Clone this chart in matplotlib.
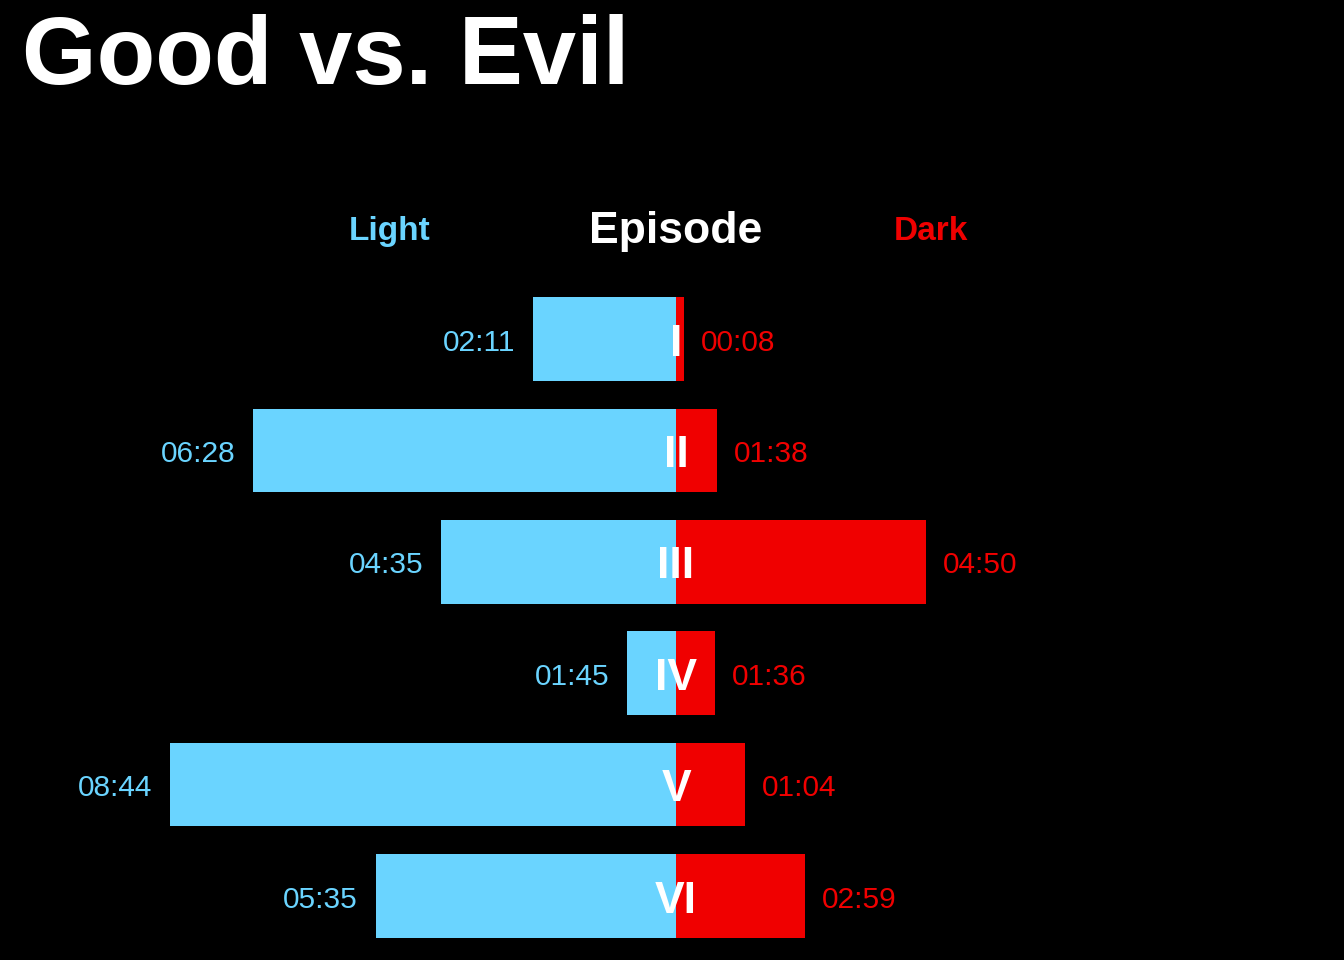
import matplotlib
matplotlib.use("Agg")
import matplotlib.pyplot as plt

# Data (bar lengths, labels as printed)
episodes = ["I", "II", "III", "IV", "V", "VI"]
light_len = [143, 423, 235, 49, 506, 300]
dark_len = [8, 41, 250, 39, 69, 129]
light_lbl = ["02:11", "06:28", "04:35", "01:45", "08:44", "05:35"]
dark_lbl = ["00:08", "01:38", "04:50", "01:36", "01:04", "02:59"]

light_col = "#6AD4FF"
dark_col = "#F00000"

plt.rcParams["font.family"] = ["Liberation Sans", "DejaVu Sans"]

fig = plt.figure(figsize=(13.44, 9.6), dpi=100)
fig.patch.set_facecolor("black")
ax = fig.add_axes([0, 0, 1, 1])
ax.set_facecolor("black")
ax.set_axis_off()

# one data unit ~ one pixel horizontally, rows are 111.4 px apart
ax.set_xlim(-676, 668)
ax.set_ylim(5.574, -3.043)

rows = list(range(len(episodes)))
ax.barh(rows, [-v for v in light_len], height=0.75, color=light_col, linewidth=0)
ax.barh(rows, dark_len, height=0.75, color=dark_col, linewidth=0)

px = 1 / 111.4  # one pixel in row units
for i in rows:
    ax.text(-light_len[i] - 18, i + 3.5 * px, light_lbl[i], color=light_col,
            fontsize=21.5, ha="right", va="center")
    ax.text(dark_len[i] + 17, i + 3.5 * px, dark_lbl[i], color=dark_col,
            fontsize=21.5, ha="left", va="center")
    ax.text(0, i + 5 * px, episodes[i], color="white", fontsize=32,
            fontweight="bold", ha="center", va="center")

# column headers
ax.text(-286, -1 + 4 * px, "Light", color=light_col, fontsize=24,
        fontweight="bold", ha="center", va="center")
ax.text(0, -1 + 4 * px, "Episode", color="white", fontsize=32,
        fontweight="bold", ha="center", va="center")
ax.text(255, -1 + 4 * px, "Dark", color=dark_col, fontsize=24,
        fontweight="bold", ha="center", va="center")

fig.text(22 / 1344, 1 - 84 / 960, "Good vs. Evil", color="white", fontsize=69,
         fontweight="bold", ha="left", va="baseline")

fig.savefig("out.png", dpi=100, facecolor=fig.get_facecolor())
